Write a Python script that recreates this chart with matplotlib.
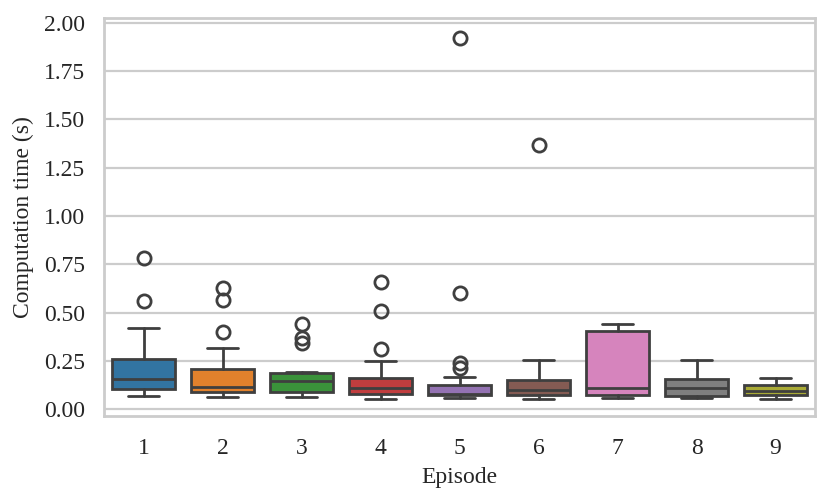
import matplotlib

matplotlib.use("Agg")
import matplotlib.pyplot as plt
import seaborn as sns

# Box statistics, one entry per episode
episodes = ["1", "2", "3", "4", "5", "6", "7", "8", "9"]
whislo = [0.066, 0.062, 0.062, 0.055, 0.057, 0.055, 0.057, 0.057, 0.052]
q1 = [0.103, 0.088, 0.088, 0.081, 0.071, 0.074, 0.071, 0.067, 0.072]
med = [0.154, 0.116, 0.147, 0.112, 0.081, 0.098, 0.112, 0.110, 0.093]
q3 = [0.262, 0.207, 0.188, 0.162, 0.123, 0.150, 0.404, 0.157, 0.126]
whishi = [0.421, 0.316, 0.195, 0.249, 0.169, 0.257, 0.439, 0.256, 0.161]
fliers = [
    [0.784, 0.560],
    [0.625, 0.563, 0.399],
    [0.439, 0.370, 0.344],
    [0.656, 0.508, 0.314],
    [1.922, 0.599, 0.240, 0.214],
    [1.368],
    [],
    [],
    [],
]

sns.set_theme(style="whitegrid")
plt.rcParams["font.family"] = ["Liberation Serif", "DejaVu Serif"]

colors = sns.color_palette("tab10", len(episodes), desat=0.75)
line_color = "#3f3f3f"

stats = []
for i in range(len(episodes)):
    stats.append({
        "whislo": whislo[i], "q1": q1[i], "med": med[i], "q3": q3[i],
        "whishi": whishi[i], "fliers": fliers[i], "label": episodes[i],
    })

fig = plt.figure(figsize=(8.3, 5.01), dpi=100)
ax = fig.add_axes([0.1253, 0.1697, 0.8567, 0.7938])

bp = ax.bxp(
    stats,
    positions=range(len(episodes)),
    widths=0.8,
    patch_artist=True,
    boxprops=dict(edgecolor=line_color, linewidth=2.0),
    whiskerprops=dict(color=line_color, linewidth=2.0),
    capprops=dict(color=line_color, linewidth=2.0),
    medianprops=dict(color=line_color, linewidth=2.0),
    flierprops=dict(marker="o", markerfacecolor="none", markeredgecolor=line_color,
                    markersize=9.5, markeredgewidth=2.0),
    capwidths=0.4,
)
for patch, c in zip(bp["boxes"], colors):
    patch.set_facecolor(c)

ax.set_xlim(-0.5, len(episodes) - 0.5)
ax.set_ylim(-0.035, 2.023)
ax.set_yticks([0, 0.25, 0.5, 0.75, 1.0, 1.25, 1.5, 1.75, 2.0])
ax.set_yticklabels([f"{v:.2f}" for v in ax.get_yticks()])
ax.set_xticks(range(len(episodes)))
ax.set_xticklabels(episodes)
ax.tick_params(labelsize=17, colors="#262626")
ax.tick_params(axis="x", pad=9.5)
ax.tick_params(axis="y", pad=7.5)
ax.xaxis.grid(False)
ax.yaxis.grid(True, color="#cccccc", linewidth=1.6)
for s in ax.spines.values():
    s.set_color("#cccccc")
    s.set_linewidth(2.0)
ax.set_xlabel("Episode", fontsize=17, color="#262626", labelpad=6)
ax.set_ylabel("Computation time (s)", fontsize=17, color="#262626", labelpad=7)

fig.savefig("out.png", dpi=100)
